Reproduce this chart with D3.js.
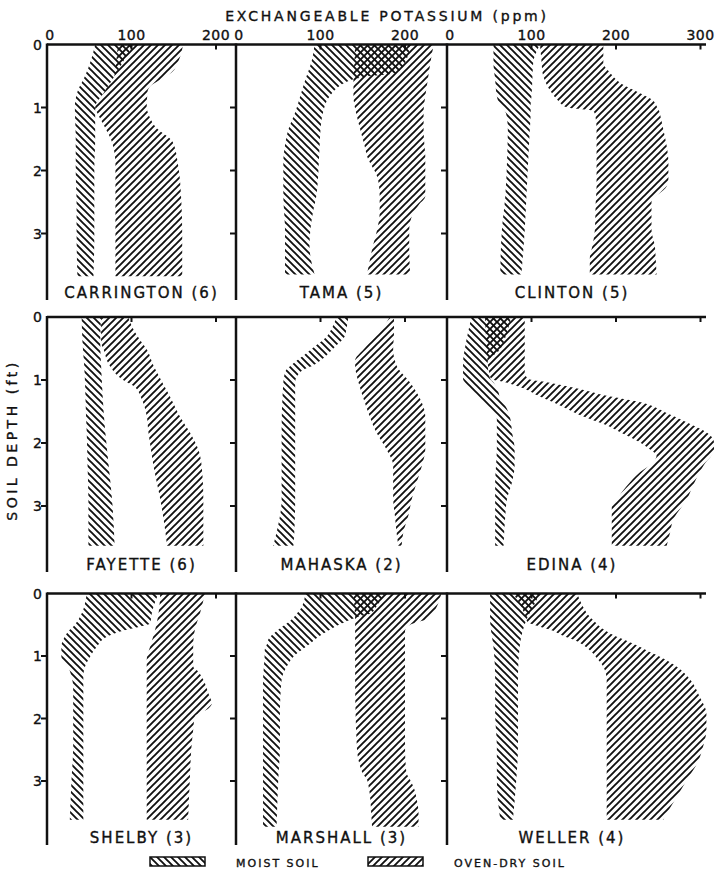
<!DOCTYPE html>
<html>
<head>
<meta charset="utf-8">
<script src="https://cdn.jsdelivr.net/npm/d3@7"></script>
<style>
  body { margin: 0; background: #fff; }
  svg { display: block; }
  text { font-family: "DejaVu Sans", sans-serif; fill: #111; stroke: #111; stroke-width: 0.35; }
</style>
</head>
<body>
<div id="chart"></div>
<script>
const soilNames = ["CARRINGTON (6)", "TAMA (5)", "CLINTON (5)",
                   "FAYETTE (6)", "MAHASKA (2)", "EDINA (4)",
                   "SHELBY (3)", "MARSHALL (3)", "WELLER (4)"]

// rows: [depth ft, low ppm, high ppm]
const carringtonMoist = [[0,57,102],[0.25,52,91],[0.5,45,80],[0.75,36,68],[1,33,57],[1.5,34,57],[2,34,56],[2.5,35,56],[3,35,56],[3.68,36,55]]
const carringtonDry = [[0,84,161],[0.25,82,156],[0.45,80.5,147],[0.55,78,135],[0.65,72,123],[0.75,68,119],[1,57,118],[1.1,60,120],[1.3,68,128],[1.55,77,149],[1.9,81,155],[2.5,81,159],[3,81,160],[3.68,81,160]]

const tamaMoist = [[0,93,206],[0.29,89,200],[0.45,85,190],[0.52,83,150],[0.56,82,137],[0.82,76,111],[1.08,70,103],[1.35,62,100],[1.6,58,99],[1.87,56,98],[2.14,56,97],[2.41,56,95],[2.67,57,91],[2.94,58,88],[3.2,58,87],[3.65,58,93]]
const tamaDry = [[0,141,234],[0.29,140,230],[0.56,139,227],[0.82,139,224],[1.08,142,222],[1.35,147,222],[1.6,152,223],[1.77,155,224],[2.14,168,224],[2.41,170,224],[2.55,170,216],[2.67,170,210],[2.94,167,205],[3.2,162,205],[3.65,155,206]]

const clintonMoist = [[0,55,110],[0.29,55,102],[0.56,57,101],[0.82,59,100],[0.95,62,99],[1.1,70,99],[1.35,72,98],[1.87,71,96],[2.41,69,94],[2.94,65,92],[3.65,63,88]]
const clintonDry = [[0,110,185],[0.29,112,185],[0.45,113,193],[0.61,117,205],[0.77,124,228],[0.87,130,242],[1,142,249],[1.05,172,251],[1.1,175,252],[1.35,177,256],[1.61,177,260],[1.87,177,262],[2.14,177,262],[2.25,177,260],[2.5,176,242],[2.94,175,242],[3.2,172,246],[3.4,169,247],[3.65,169,248]]

const fayetteMoist = [[0,41,64],[0.4,42,63],[0.77,44,64],[1.04,45,65],[1.5,46,67],[1.83,47,69],[2.36,48,73],[2.9,49,77],[3.63,49,80]]
const fayetteDry = [[0,64,96],[0.24,64,104],[0.4,64,112],[0.51,67,118],[0.77,74,126],[1,90,135],[1.1,103,139],[1.3,112,147],[1.57,118,157],[1.83,120,169],[2.1,123,179],[2.36,126,183],[2.89,134,185],[3.4,140,185],[3.63,142,185]]

const mahaskaMoist = [[0,119,133],[0.24,111,130],[0.3,108,129],[0.45,95,119],[0.61,80,107],[0.69,72,100],[0.77,65,91],[0.85,59,78],[1.04,56,70],[1.83,54,70],[2.89,54,70],[3.42,48,69],[3.63,44,68]]
const mahaskaDry = [[0,182,187],[0.24,170,187],[0.51,151,186],[0.69,141,188],[0.77,141,190],[1.04,145,206],[1.3,151,218],[1.57,158,224],[1.83,166,224],[2.1,178,224],[2.36,186,220],[2.62,186,214],[2.89,186,208],[3.15,188,204],[3.42,190,198],[3.63,192,196]]

const edinaMoist = [[0,29,76],[0.24,25,71],[0.51,21,63],[0.72,19,48],[0.98,19,51],[1.04,21,55],[1.2,31,61],[1.3,38,63],[1.41,47,69],[1.62,59,75],[1.83,59,77],[2.1,59,80],[2.36,58,80],[2.62,57,77],[2.89,57,71],[3.15,57,69],[3.63,57,67]]
const edinaDry = [[0,45,92],[0.51,47,92],[0.72,48,92],[0.88,50,92],[0.98,52,96],[1.04,70,120],[1.12,88,149],[1.25,108,189],[1.35,125,228],[1.51,150,258],[1.57,160,268],[1.72,189,291],[1.83,205,307],[1.99,228,316],[2.1,240,316],[2.2,248,313],[2.31,244,306],[2.47,228,299],[2.68,213,291],[2.89,201,284],[2.99,195,279],[3.21,195,268],[3.42,195,264],[3.63,195,260]]

const shelbyMoist = [[0,47,132],[0.21,44,126],[0.32,41,124],[0.48,34,122],[0.53,31,110],[0.58,27,94],[0.69,21,71],[0.85,17,59],[1.01,17,51],[1.17,25,45],[1.33,29,43],[1.49,31,43],[2.45,31,43],[2.98,29,43],[3.62,27,43]]
const shelbyDry = [[0,134,187],[0.32,132,181],[0.58,128,175],[0.85,122,173],[1.06,118,173],[1.17,118,173],[1.22,118,177],[1.38,118,185],[1.6,118,191],[1.76,118,195],[1.84,118,191],[1.97,118,175],[2.18,118,173],[2.45,118,171],[2.98,118,169],[3.62,118,167]]

const marshallMoist = [[0,82,176],[0.21,78,166],[0.32,72,159],[0.37,69,145],[0.48,60,125],[0.58,50,111],[0.74,38,93],[0.8,37,88],[0.9,34,78],[0.96,34,72],[1.17,33,60],[1.38,32,54],[1.92,32,52],[2.45,32,52],[2.98,32,50],[3.73,32,48]]
const marshallDry = [[0,139,243],[0.2,140,238],[0.4,141,228],[0.5,141,206],[0.6,141,200],[1.38,141,200],[2.45,143,200],[2.77,147,201],[2.88,150,202],[2.98,155,206],[3.09,157,210],[3.3,159,214],[3.52,160,216],[3.73,161,216]]

const wellerMoist = [[0,51,110],[0.21,51,102],[0.42,51,94],[0.58,52,90],[0.85,55,86],[1.38,57,84],[1.92,57,84],[2.45,59,84],[2.98,59,82],[3.62,63,78]]
const wellerDry = [[0,78,154],[0.21,88,161],[0.37,93,169],[0.45,95,175],[0.53,110,181],[0.58,122,186],[0.69,140,201],[0.74,150,210],[0.85,164,228],[0.96,173,244],[1.01,176,252],[1.17,185,272],[1.38,189,288],[1.65,189,299],[1.92,189,307],[2.18,189,307],[2.45,189,303],[2.72,189,296],[2.98,189,284],[3.25,189,272],[3.52,189,260],[3.62,189,256]]

const moistBands = [carringtonMoist, tamaMoist, clintonMoist, fayetteMoist, mahaskaMoist, edinaMoist, shelbyMoist, marshallMoist, wellerMoist]
const dryBands = [carringtonDry, tamaDry, clintonDry, fayetteDry, mahaskaDry, edinaDry, shelbyDry, marshallDry, wellerDry]

const ppmTicks = [[0, 100, 200], [0, 100, 200], [0, 100, 200, 300]]
const depthTicks = [0, 1, 2, 3]

// layout
const W = 715, H = 871
const colLeft = [47, 236, 447]
const colRight = [236, 447, 705]
const pxPerPpm = 0.845
const rowTop = [44.5, 317, 593.5]
const rowBottom = [300, 572, 845]
const pxPerFt = [63, 63, 62.5]

const svg = d3.select('#chart').append('svg')
  .attr('width', W)
  .attr('height', H)

const defs = svg.append('defs')
function hatch(id, d) {
  defs.append('pattern')
    .attr('id', id)
    .attr('patternUnits', 'userSpaceOnUse')
    .attr('width', 7)
    .attr('height', 7)
    .append('path')
    .attr('d', d)
    .attr('stroke', '#111')
    .attr('stroke-width', 1.9)
    .attr('stroke-linecap', 'square')
}
hatch('moist', 'M0,0L7,7M-1,6L1,8M6,-1L8,1')
hatch('dry', 'M0,7L7,0M-1,1L1,-1M6,8L8,6')

const xScales = colLeft.map((x0, c) => d3.scaleLinear()
  .domain([0, (colRight[c] - x0) / pxPerPpm])
  .range([x0, colRight[c]]))
const yScales = rowTop.map((y0, r) => d3.scaleLinear()
  .domain([0, 4])
  .range([y0, y0 + 4 * pxPerFt[r]]))

// bands
soilNames.forEach((name, i) => {
  const r = Math.floor(i / 3), c = i % 3
  const x = xScales[c], y = yScales[r]
  const area = d3.area()
    .curve(d3.curveMonotoneY)
    .y(d => y(d[0]))
    .x0(d => x(d[1]))
    .x1(d => x(d[2]))

  svg.append('path').attr('d', area(moistBands[i])).attr('fill', 'url(#moist)')
  svg.append('path').attr('d', area(dryBands[i])).attr('fill', 'url(#dry)')

  svg.append('text')
    .attr('x', (colLeft[c] + colRight[c]) / 2 + (c === 2 ? -4 : 0))
    .attr('y', rowBottom[r] - 2)
    .attr('text-anchor', 'middle')
    .attr('font-size', 15)
    .attr('letter-spacing', 2)
    .text(name)
})

// axes
const axes = svg.append('g').attr('stroke', '#111').attr('fill', 'none')
rowTop.forEach((y0, r) => {
  axes.append('line')
    .attr('x1', colLeft[0]).attr('x2', colRight[2] + 1)
    .attr('y1', y0).attr('y2', y0)
    .attr('stroke-width', 2.5)
  colLeft.forEach((x0, c) => {
    axes.append('line')
      .attr('x1', x0).attr('x2', x0)
      .attr('y1', y0 - 1).attr('y2', rowBottom[r])
      .attr('stroke-width', 2.5)
    ppmTicks[c].slice(1).forEach(t => {
      axes.append('line')
        .attr('x1', xScales[c](t)).attr('x2', xScales[c](t))
        .attr('y1', y0).attr('y2', y0 + 5)
        .attr('stroke-width', 2)
    })
    depthTicks.slice(1).forEach(t => {
      axes.append('line')
        .attr('x1', x0 - 6).attr('x2', x0)
        .attr('y1', yScales[r](t)).attr('y2', yScales[r](t))
        .attr('stroke-width', 2)
    })
  })
  depthTicks.forEach(t => {
    svg.append('text')
      .attr('x', colLeft[0] - 5)
      .attr('y', yScales[r](t))
      .attr('dy', '0.36em')
      .attr('text-anchor', 'end')
      .attr('font-size', 14)
      .text(t)
  })
})

// top tick labels
ppmTicks.forEach((ticks, c) => {
  ticks.forEach(t => {
    svg.append('text')
      .attr('x', xScales[c](t) + (t === 0 ? 3 : 0))
      .attr('y', rowTop[0] - 5)
      .attr('text-anchor', 'middle')
      .attr('font-size', 14)
      .attr('letter-spacing', 0.5)
      .text(t)
  })
})

svg.append('text')
  .attr('x', 387)
  .attr('y', 21)
  .attr('text-anchor', 'middle')
  .attr('font-size', 14)
  .attr('letter-spacing', 2.8)
  .text('EXCHANGEABLE POTASSIUM (ppm)')

svg.append('text')
  .attr('transform', 'translate(17,440) rotate(-90)')
  .attr('text-anchor', 'middle')
  .attr('font-size', 14)
  .attr('letter-spacing', 3.5)
  .text('SOIL DEPTH (ft)')

// legend
const legend = [
  { label: 'MOIST SOIL', fill: 'url(#moist)', x: 150 },
  { label: 'OVEN-DRY SOIL', fill: 'url(#dry)', x: 368 }
]
legend.forEach(l => {
  svg.append('rect')
    .attr('x', l.x).attr('y', 857)
    .attr('width', 55).attr('height', 9)
    .attr('fill', l.fill)
    .attr('stroke', '#111').attr('stroke-width', 1.5)
  svg.append('text')
    .attr('x', l.x + 86).attr('y', 866.5)
    .attr('font-size', 11)
    .attr('letter-spacing', 2)
    .text(l.label)
})
</script>
</body>
</html>
